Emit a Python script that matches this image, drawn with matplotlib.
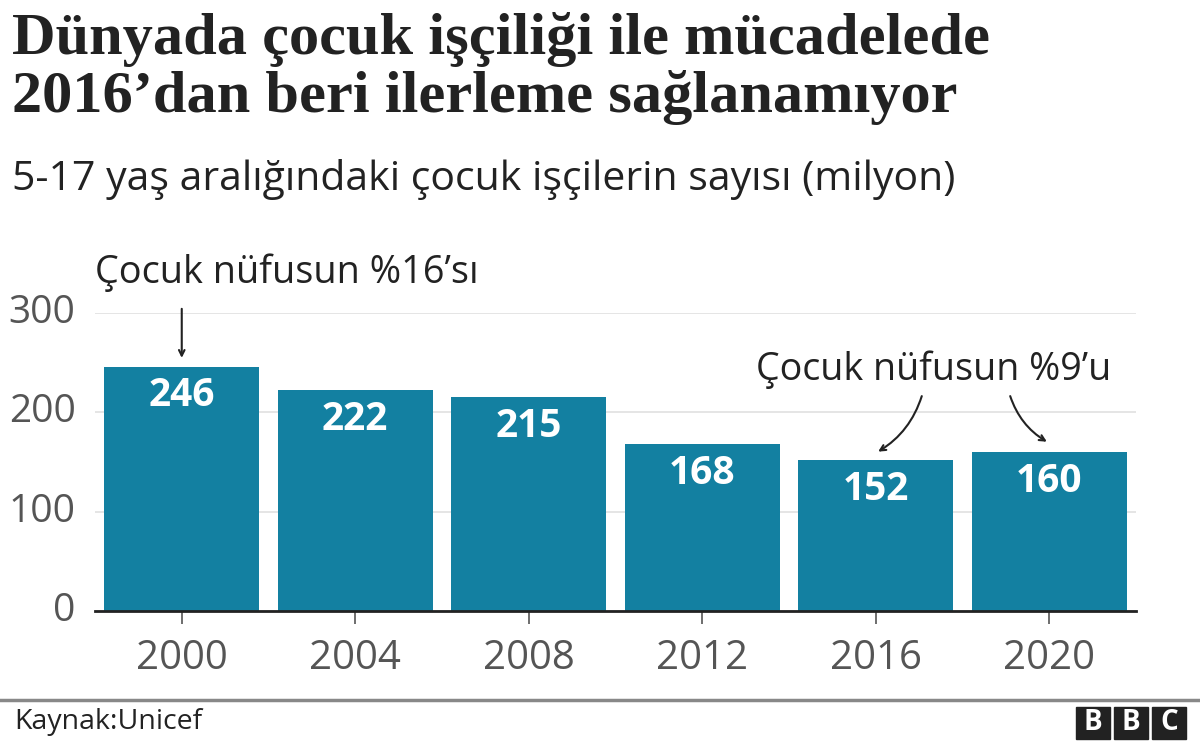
import matplotlib
matplotlib.use("Agg")
import matplotlib.pyplot as plt
from matplotlib.patches import Rectangle

years = ["2000", "2004", "2008", "2012", "2016", "2020"]
workers = [246, 222, 215, 168, 152, 160]
y_ticks = [0, 100, 200, 300]

title = "Dünyada çocuk işçiliği ile mücadelede\n2016’dan beri ilerleme sağlanamıyor"
subtitle = "5-17 yaş aralığındaki çocuk işçilerin sayısı (milyon)"
note_2000 = "Çocuk nüfusun %16’sı"
note_2020 = "Çocuk nüfusun %9’u"
source = "Kaynak:Unicef"

plt.rcParams['font.family'] = ['Open Sans', 'DejaVu Sans']

fig = plt.figure(figsize=(12, 7.44), dpi=100)
ax = fig.add_axes([95 / 1200, 1 - 611 / 744, 1041 / 1200, 298 / 744])

x = list(range(len(years)))
ax.bar(x, workers, width=0.894, color='#1380a1', zorder=2)
for xi, v in zip(x, workers):
    ax.annotate(str(v), (xi, v), xytext=(0, -7), textcoords='offset points',
                ha='center', va='top', color='white', fontsize=28,
                fontweight='bold')

ax.set_xlim(-0.5, 5.5)
ax.set_ylim(0, 300)
ax.set_yticks(y_ticks)
ax.set_xticks(x)
ax.set_xticklabels(years)
ax.grid(axis='y', color='#e0e0e0', linewidth=1.2, zorder=0)
ax.set_axisbelow(True)
for side in ['top', 'right', 'left']:
    ax.spines[side].set_visible(False)
ax.spines['bottom'].set_color('#222222')
ax.spines['bottom'].set_linewidth(2)
ax.spines['bottom'].set_zorder(3)
ax.tick_params(axis='y', length=0, pad=14, labelsize=28, labelcolor='#555555')
ax.tick_params(axis='x', length=9, width=1.2, color='#555555', pad=11,
               labelsize=29, labelcolor='#555555')
for lbl in ax.get_yticklabels():
    lbl.set_va('center')

# annotations
ax.text(-0.5, 341, note_2000, fontsize=27.3, color='#222222', ha='left',
        va='center')
ax.annotate('', xy=(0, 252), xytext=(0, 307), textcoords='data',
            arrowprops=dict(arrowstyle='->', color='#222222', lw=1.5),
            annotation_clip=False)
ax.text(3.31, 243, note_2020, fontsize=27.1, color='#222222', ha='left',
        va='center')
ax.annotate('', xy=(4.0, 159), xytext=(4.27, 219),
            arrowprops=dict(arrowstyle='->', color='#222222', lw=1.5,
                            connectionstyle='arc3,rad=-0.2'))
ax.annotate('', xy=(5.0, 169), xytext=(4.77, 219),
            arrowprops=dict(arrowstyle='->', color='#222222', lw=1.5,
                            connectionstyle='arc3,rad=0.2'))

# titles
fig.text(12 / 1200, 1 - 12 / 744, title, fontsize=43.5, fontweight='bold',
         family=['Liberation Serif', 'DejaVu Serif'], color='#222222',
         ha='left', va='top', linespacing=1.08)
fig.text(12 / 1200, 1 - 180 / 744, subtitle, fontsize=29.5, color='#222222',
         ha='left', va='center')

# footer
fig.add_artist(plt.Line2D([0, 1], [1 - 700 / 744] * 2, color='#888888', lw=2.5))
fig.text(14 / 1200, 1 - 722 / 744, source, fontsize=20.5, color='#222222',
         ha='left', va='center')
for i, ch in enumerate("BBC"):
    x0 = (1076 + i * 38) / 1200
    fig.add_artist(Rectangle((x0, 1 - 739 / 744), 34 / 1200, 32 / 744,
                             color='#222222', transform=fig.transFigure))
    fig.text(x0 + 17 / 1200, 1 - 723 / 744, ch, color='white', fontsize=20,
             fontweight='bold', ha='center', va='center')

fig.savefig('out.png', dpi=100)
